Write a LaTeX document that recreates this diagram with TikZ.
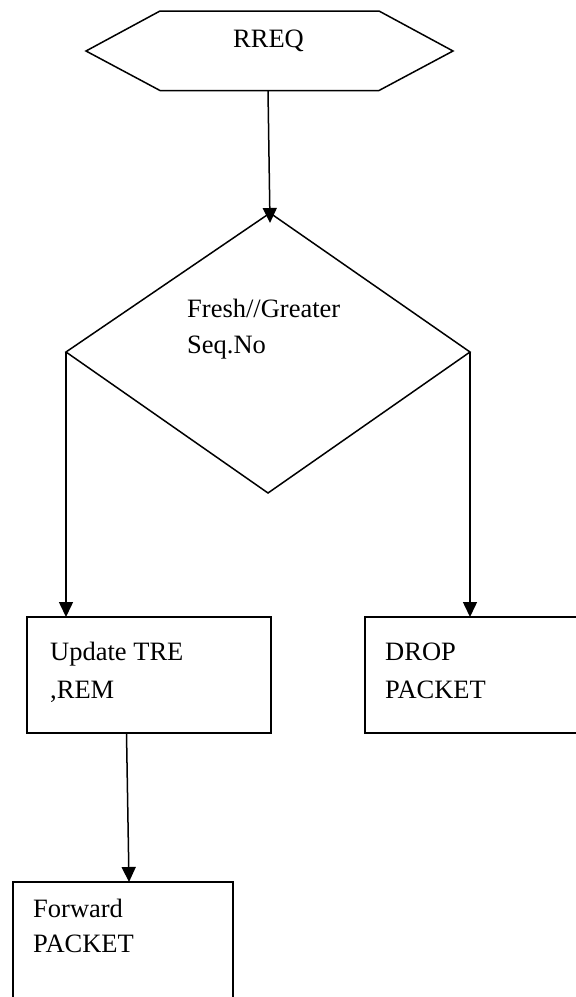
\documentclass[tikz,border=0pt]{standalone}
\usepackage{fontspec}
\setmainfont{Liberation Serif}
\usetikzlibrary{arrows.meta}
\begin{document}
\begin{tikzpicture}[x=1pt,y=1pt,
  shapeline/.style={draw=black,line width=1.5pt,line join=miter},
  arr/.style={draw=black,line width=1.5pt,-{Triangle[length=15pt,width=14pt]}},
  lbl/.style={anchor=base west,inner sep=0pt,font=\fontsize{26.5}{32}\selectfont}]
\useasboundingbox (0,0) rectangle (576,-997);
\clip (0,0) rectangle (576,-997);
% hexagon RREQ
\coordinate (hexL) at (86,-51);
\coordinate (hexB) at (268,-90.5);
\draw[shapeline] (hexL) -- (160,-11) -- (379,-11) -- (453,-51) -- (379,-90.5) -- (160,-90.5) -- cycle;
\node[lbl] (rreq) at (233,-47) {RREQ};
% diamond
\coordinate (dT) at (270,-213);
\coordinate (dL) at (66,-352);
\coordinate (dR) at (470,-352);
\coordinate (dB) at (268,-493);
\draw[shapeline] (dT) -- (dR) -- (dB) -- (dL) -- cycle;
\node[lbl] (fresh) at (187,-317) {Fresh//Greater};
\node[lbl] (seq) at (187,-353) {Seq.No};
% boxes
\draw[shapeline] (27,-617) rectangle (271,-733);
\coordinate (upT) at (66,-617);
\coordinate (upB) at (126.5,-733);
\node[lbl] (upd1) at (50,-660) {Update TRE};
\node[lbl] (upd2) at (50,-698) {,REM};
\draw[shapeline] (365,-617) rectangle (610,-733);
\coordinate (drT) at (470,-617);
\node[lbl] (drop1) at (385,-660) {DROP};
\node[lbl] (drop2) at (385,-698) {PACKET};
\draw[shapeline] (13,-882) rectangle (233,-1030);
\coordinate (fwT) at (129,-882);
\node[lbl] (fw1) at (33,-917) {Forward};
\node[lbl] (fw2) at (33,-952) {PACKET};
% connectors
\draw[arr] (hexB) -- ([yshift=-10pt]dT);
\draw[arr] (dL) -- (upT);
\draw[arr] (dR) -- (drT);
\draw[arr] (upB) -- (fwT);
\end{tikzpicture}
\end{document}
